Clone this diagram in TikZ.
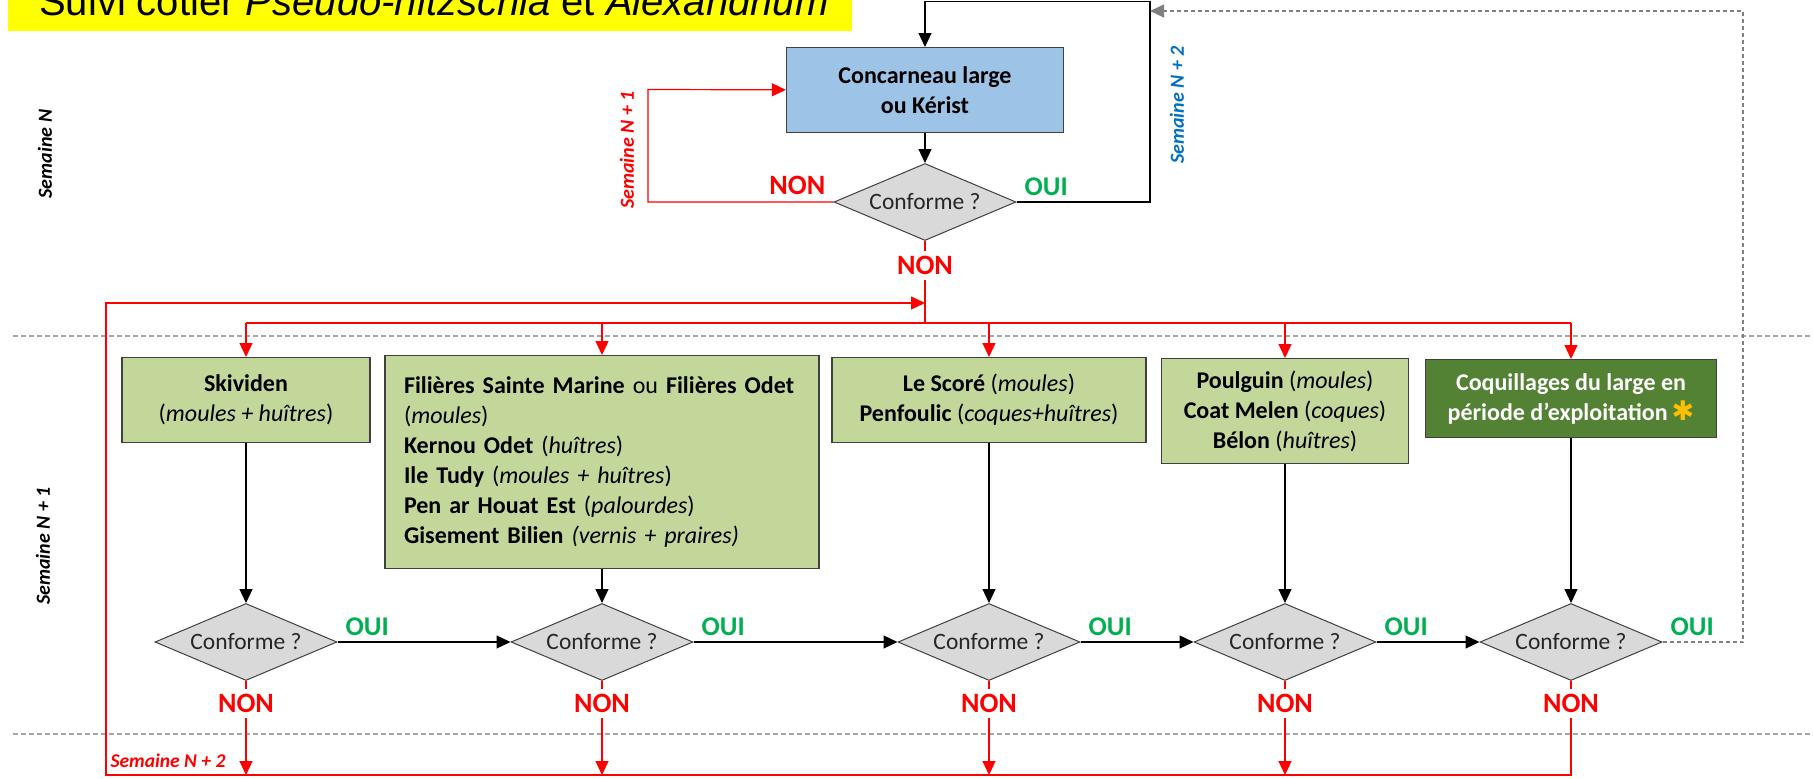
\documentclass[tikz,border=0pt]{standalone}
\usepackage{fontspec}
\setmainfont{Carlito}
\newfontfamily\titlefont{Liberation Sans}
\newfontfamily\starfont{DejaVu Sans}
\usetikzlibrary{positioning,arrows.meta,shapes.geometric}

\definecolor{titleyellow}{HTML}{FFFF00}
\definecolor{siteblue}{HTML}{9DC3E6}
\definecolor{sitegreen}{HTML}{C4D79B}
\definecolor{offshoregreen}{HTML}{548235}
\definecolor{testgrey}{HTML}{D9D9D9}
\definecolor{edgegrey}{HTML}{404040}
\definecolor{ouigreen}{HTML}{00B050}
\definecolor{weekblue}{HTML}{0070C0}
\definecolor{starorange}{HTML}{FFC000}

\begin{document}
\begin{tikzpicture}[
  x=1pt, y=-1pt,
  font=\fontsize{24}{30}\selectfont,
  site/.style = {
    rectangle, draw=edgegrey, line width=1.3pt, fill=sitegreen,
    align=center, anchor=north, inner sep=0pt,
  },
  test/.style = {
    diamond, aspect=2.4, draw=edgegrey, line width=1pt, fill=testgrey,
    minimum width=182pt, minimum height=77pt, inner sep=0pt,
    text=black!85, font=\fontsize{23.5}{28}\selectfont,
  },
  oui/.style = {text=ouigreen, font=\fontsize{27}{30}\selectfont\bfseries, inner sep=0pt},
  non/.style = {text=red, font=\fontsize{28}{30}\selectfont\bfseries, inner sep=5pt},
  week/.style = {font=\fontsize{20}{24}\selectfont\bfseries\itshape, rotate=90, inner sep=0pt},
  arrow/.style = {-{Triangle[length=14pt,width=13pt]}, line width=1.2pt, draw=black},
  redarrow/.style = {arrow, draw=red},
  redline/.style = {line width=1.2pt, draw=red},
  greyarrow/.style = {arrow, draw=black!50, dash pattern=on 4pt off 3pt},
  sep/.style = {line width=1.3pt, draw=black!35, dash pattern=on 5pt off 3pt},
]
  \useasboundingbox (0,0) rectangle (1813,779);

  % title
  \fill[titleyellow] (8,-40) rectangle (852,31);
  \node[anchor=base west, inner sep=0pt, font=\titlefont\fontsize{40}{48}\selectfont] (titre) at (39,15)
    {Suivi côtier \textit{Pseudo-nitzschia} et \textit{Alexandrium}};

  % week bands
  \draw[sep] (13,336) -- (1813,336);
  \draw[sep] (13,734) -- (1813,734);
  \node[week] (wN)  at (45,154) {Semaine N};
  \node[week] (wN1) at (43,546) {Semaine N + 1};

  % semaine N
  \node[site, fill=siteblue, minimum width=277pt, minimum height=85pt, font=\fontsize{24}{30}\selectfont\bfseries] (conc) at (925,47)
    {Concarneau large\\ou Kérist};
  \node[test] (t0) at (925,202) {Conforme ?};
  \draw[arrow] (conc) -- (t0);

  \node[non, above left=2pt and 3pt of t0.west] (non0w) {NON};
  \node[oui, above right=6pt and 8pt of t0.east] (oui0) {OUI};
  \node[non, below=10pt of t0.south, anchor=north] (non0) {NON};

  \coordinate (topright) at (1150,1.5);
  \coordinate (nloop) at (648,89.5);
  \draw[arrow] (t0) -| (topright) -| (conc);
  \draw[redarrow] (t0) -| (nloop) -- (conc);
  \node[week, text=red] (wredN1) at (627,150) {Semaine N + 1};
  \node[week, text=weekblue] (wblueN2) at (1177,105) {Semaine N + 2};

  % semaine N + 1 : sites
  \node[site, minimum width=248pt, minimum height=85pt] (skiv) at (246,357)
    {\textbf{Skividen}\\(\textit{moules + huîtres})};
  \node[site, minimum width=434pt, minimum height=213pt, text width=396pt, align=left] (fil) at (602,355)
    {\textbf{Filières Sainte Marine} ou \textbf{Filières Odet}\\
     (\textit{moules})\\
     \textbf{Kernou Odet} (\textit{huîtres})\\
     \textbf{Ile Tudy} (\textit{moules + huîtres})\\
     \textbf{Pen ar Houat Est} (\textit{palourdes})\\
     \textbf{Gisement Bilien} \textit{(vernis + praires)}};
  \node[site, minimum width=314pt, minimum height=85pt] (score) at (989,357)
    {\textbf{Le Scoré} (\textit{moules})\\\textbf{Penfoulic} (\textit{coques+huîtres})};
  \node[site, minimum width=247pt, minimum height=105pt] (poul) at (1285,358)
    {\textbf{Poulguin} (\textit{moules})\\\textbf{Coat Melen} (\textit{coques})\\\textbf{Bélon} (\textit{huîtres})};
  \node[site, fill=offshoregreen, text=white, minimum width=291pt, minimum height=78pt, font=\fontsize{24}{30}\selectfont\bfseries] (coq) at (1571,359)
    {Coquillages du large en\\période d’exploitation\,{\starfont\fontsize{27}{30}\selectfont\color{starorange}✱}};

  % distribution from NON
  \coordinate (split) at (925,323);
  \draw[redline] (t0) -- (non0);
  \draw[redline] (non0) -- (split);
  \draw[redline] (skiv.north |- split) -- (coq.north |- split);
  \draw[redarrow] (skiv.north |- split) -- (skiv);
  \draw[redarrow] (fil.north |- split) -- (fil);
  \draw[redarrow] (score.north |- split) -- (score);
  \draw[redarrow] (poul.north |- split) -- (poul);
  \draw[redarrow] (coq.north |- split) -- (coq);

  % tests
  \node[test] (t1) at (skiv |- 0,642) {Conforme ?};
  \node[test] (t2) at (fil |- 0,642) {Conforme ?};
  \node[test] (t3) at (score |- 0,642) {Conforme ?};
  \node[test] (t4) at (poul |- 0,642) {Conforme ?};
  \node[test] (t5) at (coq |- 0,642) {Conforme ?};

  \draw[arrow] (skiv) -- (t1);
  \draw[arrow] (fil) -- (t2);
  \draw[arrow] (score) -- (t3);
  \draw[arrow] (poul) -- (t4);
  \draw[arrow] (coq) -- (t5);

  \draw[arrow] (t1) -- (t2);
  \draw[arrow] (t2) -- (t3);
  \draw[arrow] (t3) -- (t4);
  \draw[arrow] (t4) -- (t5);

  \foreach \t in {1,...,5} {
    \node[oui, above right=6pt and 8pt of t\t.east] (oui\t) {OUI};
    \node[non, below=8pt of t\t.south, anchor=north] (non\t) {NON};
    \draw[redline] (t\t) -- (non\t);
  }

  % semaine N + 2
  \coordinate (loopcorner) at (106,775);
  \coordinate (loopin) at (925,303);
  \coordinate (farright) at (1743,11);
  \draw[redarrow] (non5) |- (loopcorner) |- (loopin);
  \draw[redarrow] (non1) -- (non1 |- loopcorner);
  \draw[redarrow] (non2) -- (non2 |- loopcorner);
  \draw[redarrow] (non3) -- (non3 |- loopcorner);
  \draw[redarrow] (non4) -- (non4 |- loopcorner);
  \node[text=red, font=\fontsize{19.5}{24}\selectfont\bfseries\itshape] (wredN2) at (168,761) {Semaine N + 2};

  \draw[greyarrow] (t5) -| (farright) -- (topright |- farright);
\end{tikzpicture}
\end{document}
